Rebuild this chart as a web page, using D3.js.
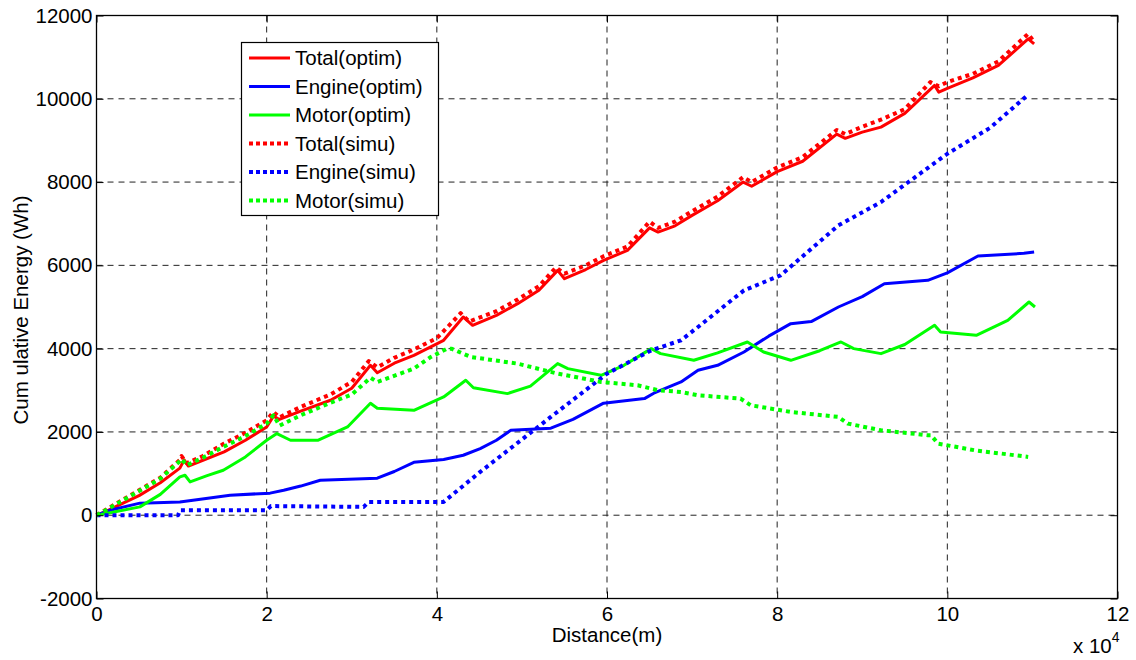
<!DOCTYPE html>
<html>
<head>
<meta charset="utf-8">
<script src="https://cdn.jsdelivr.net/npm/d3@7"></script>
<style>
  html, body { margin: 0; padding: 0; background: #fff; }
  svg { display: block; font-family: "Liberation Sans", Arial, Helvetica, sans-serif; }
</style>
</head>
<body>
<svg id="chart" width="1136" height="660"></svg>
<script>
// Distances in units of 10^4 m, energies in Wh.
const totalOptimX = [0, 0.1, 0.25, 0.5, 0.75, 0.98, 1.03, 1.08, 1.25, 1.5, 1.75, 2.0, 2.08, 2.15, 2.4, 2.75, 3.0, 3.22, 3.3, 3.5, 3.73, 4.08, 4.31, 4.42, 4.7, 4.95, 5.2, 5.42, 5.5, 5.75, 5.96, 6.24, 6.5, 6.6, 6.8, 7.0, 7.3, 7.6, 7.7, 8.0, 8.3, 8.7, 8.8, 9.0, 9.22, 9.5, 9.85, 9.9, 10.0, 10.3, 10.6, 10.95, 11.02];
const totalOptimY = [0, 80, 230, 470, 780, 1130, 1330, 1180, 1320, 1520, 1800, 2120, 2380, 2300, 2500, 2760, 3050, 3600, 3420, 3650, 3840, 4200, 4760, 4560, 4800, 5080, 5400, 5880, 5680, 5900, 6120, 6360, 6900, 6800, 6950, 7200, 7550, 8000, 7900, 8250, 8500, 9150, 9050, 9200, 9320, 9650, 10320, 10160, 10250, 10500, 10800, 11440, 11320];

const engineOptimX = [0, 0.16, 0.51, 0.98, 1.2, 1.57, 2.04, 2.2, 2.4, 2.63, 3.3, 3.5, 3.73, 4.08, 4.31, 4.51, 4.7, 4.87, 5.34, 5.6, 5.96, 6.44, 6.55, 6.87, 7.07, 7.3, 7.61, 7.9, 8.16, 8.4, 8.72, 9.0, 9.26, 9.77, 10.0, 10.36, 10.9, 11.02];
const engineOptimY = [0, 120, 290, 320, 380, 480, 530, 600, 700, 840, 890, 1050, 1270, 1340, 1440, 1600, 1800, 2040, 2090, 2300, 2690, 2800, 2930, 3200, 3480, 3600, 3920, 4300, 4600, 4650, 5000, 5250, 5560, 5640, 5820, 6224, 6290, 6320];

const motorOptimX = [0, 0.16, 0.51, 0.75, 0.98, 1.04, 1.1, 1.3, 1.49, 1.75, 2.0, 2.12, 2.28, 2.6, 2.95, 3.22, 3.3, 3.73, 4.08, 4.34, 4.43, 4.83, 5.1, 5.42, 5.54, 5.93, 6.2, 6.52, 6.63, 7.02, 7.3, 7.65, 7.84, 8.16, 8.5, 8.75, 8.9, 9.22, 9.5, 9.85, 9.92, 10.34, 10.71, 10.96, 11.03];
const motorOptimY = [0, 60, 200, 500, 920, 960, 800, 950, 1080, 1400, 1800, 1960, 1800, 1800, 2120, 2690, 2570, 2520, 2840, 3240, 3060, 2920, 3100, 3640, 3520, 3360, 3600, 4000, 3880, 3720, 3900, 4160, 3920, 3720, 3950, 4160, 4000, 3880, 4100, 4560, 4400, 4320, 4680, 5120, 5000];

const totalSimuX = [0, 0.1, 0.25, 0.5, 0.75, 0.98, 1.0, 1.06, 1.25, 1.5, 1.75, 2.0, 2.08, 2.15, 2.4, 2.75, 3.0, 3.2, 3.3, 3.5, 3.73, 4.0, 4.28, 4.38, 4.7, 4.95, 5.2, 5.4, 5.5, 5.75, 5.96, 6.24, 6.5, 6.6, 6.8, 7.0, 7.3, 7.6, 7.7, 8.0, 8.3, 8.7, 8.8, 9.0, 9.22, 9.5, 9.8, 9.9, 10.0, 10.3, 10.6, 10.95, 11.0];
const totalSimuY = [0, 120, 300, 600, 900, 1330, 1420, 1250, 1420, 1720, 1980, 2280, 2480, 2350, 2600, 2900, 3200, 3700, 3550, 3780, 3980, 4250, 4850, 4650, 4900, 5180, 5500, 5950, 5800, 6000, 6220, 6450, 7050, 6900, 7050, 7300, 7650, 8120, 8000, 8350, 8600, 9250, 9150, 9330, 9500, 9750, 10400, 10300, 10400, 10600, 10900, 11560, 11420];

const engineSimuX = [0, 0.96, 0.98, 2.0, 2.05, 3.14, 3.2, 4.08, 4.51, 5.34, 6.0, 6.52, 6.87, 7.07, 7.61, 8.04, 8.72, 9.22, 10.0, 10.5, 10.95];
const engineSimuY = [0, 0, 120, 120, 220, 200, 320, 320, 1040, 2360, 3400, 3960, 4200, 4520, 5400, 5760, 6960, 7520, 8680, 9300, 10100];

const motorSimuX = [0, 0.1, 0.25, 0.5, 0.75, 0.98, 1.0, 1.06, 1.25, 1.49, 1.75, 2.0, 2.08, 2.15, 2.4, 2.75, 3.0, 3.22, 3.3, 3.73, 3.93, 4.12, 4.17, 4.4, 4.95, 5.42, 5.93, 6.36, 6.6, 6.87, 7.07, 7.57, 7.69, 8.16, 8.72, 8.83, 9.22, 9.77, 9.81, 9.89, 10.32, 10.95];
const motorSimuY = [0, 110, 290, 580, 880, 1300, 1350, 1200, 1380, 1640, 1900, 2200, 2400, 2150, 2400, 2700, 2900, 3300, 3200, 3520, 3800, 4000, 4000, 3800, 3640, 3400, 3200, 3120, 3000, 2960, 2880, 2800, 2640, 2480, 2360, 2200, 2040, 1920, 1920, 1720, 1560, 1400];

const xTicks = [0, 2, 4, 6, 8, 10, 12];
const yTicks = [-2000, 0, 2000, 4000, 6000, 8000, 10000, 12000];

const seriesNames = ["Total(optim)", "Engine(optim)", "Motor(optim)", "Total(simu)", "Engine(simu)", "Motor(simu)"];
const seriesColors = ["#ff0000", "#0000ff", "#00ff00", "#ff0000", "#0000ff", "#00ff00"];
const seriesDotted = [false, false, false, true, true, true];
const seriesX = [totalOptimX, engineOptimX, motorOptimX, totalSimuX, engineSimuX, motorSimuX];
const seriesY = [totalOptimY, engineOptimY, motorOptimY, totalSimuY, engineSimuY, motorSimuY];

// Plot frame
const plotLeft = 96.5, plotRight = 1117.5, plotTop = 15.5, plotBottom = 598.5;
const svg = d3.select("#chart");
const x = d3.scaleLinear().domain([0, 12]).range([plotLeft, plotRight]);
const y = d3.scaleLinear().domain([-2000, 12000]).range([plotBottom, plotTop]);

const fontSize = 20.5;
const fmt = d => String(d); // plain hyphen for negatives

// Grid
const grid = svg.append("g");
grid.selectAll("line.gx").data(xTicks.slice(1, -1)).join("line")
  .attr("x1", d => x(d)).attr("x2", d => x(d))
  .attr("y1", plotTop).attr("y2", plotBottom)
  .attr("stroke", "#222").attr("stroke-width", 1).attr("stroke-dasharray", "6,5");
grid.selectAll("line.gy").data(yTicks.slice(1, -1)).join("line")
  .attr("y1", d => y(d)).attr("y2", d => y(d))
  .attr("x1", plotLeft).attr("x2", plotRight)
  .attr("stroke", "#222").attr("stroke-width", 1).attr("stroke-dasharray", "6,5");

// Series
const line = d3.line().x(d => x(d[0])).y(d => y(d[1]));
const marks = svg.append("g");
seriesNames.forEach((name, i) => {
  const pts = seriesX[i].map((v, k) => [v, seriesY[i][k]]);
  marks.append("path")
    .datum(pts)
    .attr("d", line)
    .attr("fill", "none")
    .attr("stroke", seriesColors[i])
    .attr("stroke-width", seriesDotted[i] ? 4 : 3)
    .attr("stroke-dasharray", seriesDotted[i] ? "4,4" : null)
    .attr("stroke-linejoin", "round");
});

// Axes: ticks pointing inward on all four sides
const tickLen = 7;
const axB = svg.append("g").attr("transform", `translate(0,${plotBottom})`)
  .call(d3.axisBottom(x).tickValues(xTicks).tickSize(-tickLen).tickPadding(8).tickFormat(fmt));
const axT = svg.append("g").attr("transform", `translate(0,${plotTop})`)
  .call(d3.axisTop(x).tickValues(xTicks).tickSize(-tickLen).tickFormat(""));
const axL = svg.append("g").attr("transform", `translate(${plotLeft},0)`)
  .call(d3.axisLeft(y).tickValues(yTicks).tickSize(-tickLen).tickPadding(4).tickFormat(fmt));
const axR = svg.append("g").attr("transform", `translate(${plotRight},0)`)
  .call(d3.axisRight(y).tickValues(yTicks).tickSize(-tickLen).tickFormat(""));
[axB, axT, axL, axR].forEach(a => {
  a.select(".domain").remove();
  a.selectAll(".tick line").attr("stroke", "#000").attr("stroke-width", 1);
  a.selectAll("text").attr("fill", "#000").attr("font-size", fontSize)
    .attr("font-family", "'Liberation Sans', Arial, sans-serif");
});
axB.selectAll("text").attr("dy", "0.71em");

svg.append("rect")
  .attr("x", plotLeft).attr("y", plotTop)
  .attr("width", plotRight - plotLeft).attr("height", plotBottom - plotTop)
  .attr("fill", "none").attr("stroke", "#000").attr("stroke-width", 1.3);

// Axis titles
svg.append("text")
  .attr("x", (plotLeft + plotRight) / 2).attr("y", 642)
  .attr("text-anchor", "middle").attr("font-size", fontSize)
  .text("Distance(m)");
svg.append("text")
  .attr("transform", "translate(28,310) rotate(-90)")
  .attr("text-anchor", "middle").attr("font-size", fontSize)
  .text("Cum ulative Energy (Wh)");

// Exponent multiplier for the distance axis
const mult = svg.append("text").attr("x", 1073).attr("y", 653).attr("font-size", fontSize);
mult.append("tspan").text("x 10");
mult.append("tspan").attr("font-size", 14).attr("dy", -11).text("4");

// Legend
const lg = svg.append("g");
lg.append("rect").attr("x", 241.5).attr("y", 42.5).attr("width", 197).attr("height", 173)
  .attr("fill", "#fff").attr("stroke", "#000").attr("stroke-width", 1.2);
const rowY0 = 58, rowStep = 28.5;
seriesNames.forEach((name, i) => {
  const cy = rowY0 + i * rowStep;
  lg.append("line")
    .attr("x1", 249).attr("x2", 290).attr("y1", cy).attr("y2", cy)
    .attr("stroke", seriesColors[i])
    .attr("stroke-width", seriesDotted[i] ? 4 : 3)
    .attr("stroke-dasharray", seriesDotted[i] ? "4,3" : null);
  lg.append("text")
    .attr("x", 295).attr("y", cy).attr("dy", "0.35em")
    .attr("font-size", fontSize)
    .text(name);
});
</script>
</body>
</html>
